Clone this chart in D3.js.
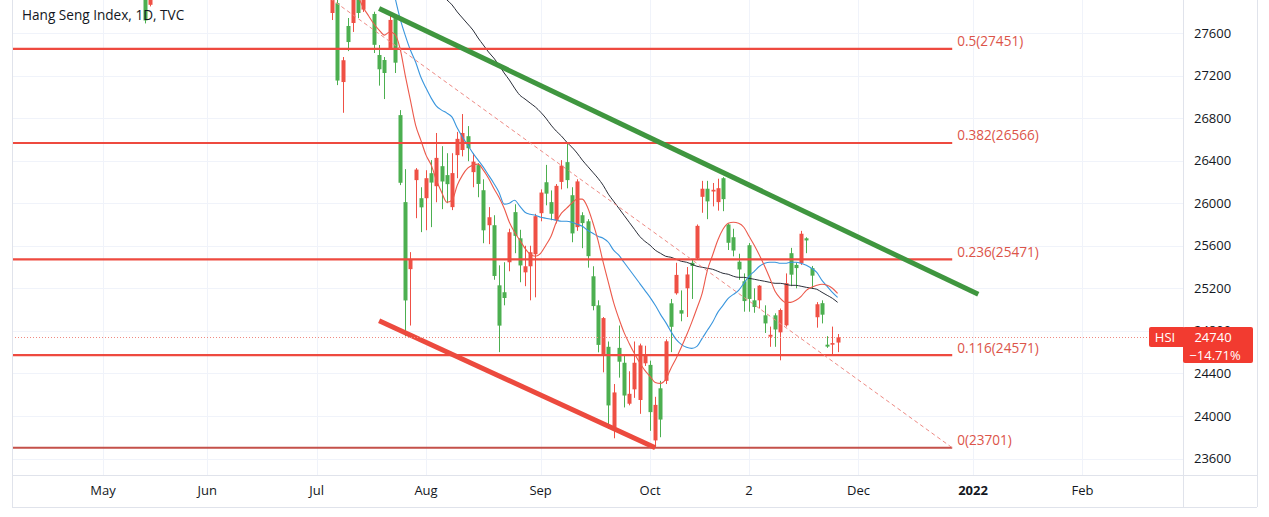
<!DOCTYPE html>
<html><head><meta charset="utf-8">
<script src="https://cdn.jsdelivr.net/npm/d3@7"></script>
<style>
body{margin:0;background:#fff;}
svg{display:block;font-family:"Open Sans",Roboto,sans-serif;}
</style>
</head><body>
<svg id="chart" width="1269" height="517"></svg>
<script>
// ---------------- DATA ----------------
const title = "Hang Seng Index, 1D, TVC";
const symbol = "HSI";
const lastPrice = 24740;
const lastChangeText = "\u221214.71%";

const holidays = ["2021-02-12","2021-02-15","2021-04-02","2021-04-05","2021-04-06","2021-05-19","2021-06-14",
  "2021-07-01","2021-09-22","2021-10-01","2021-10-13","2021-10-14","2021-12-27","2022-02-01","2022-02-02","2022-02-03"];

const candleDates = ["2021-05-13","2021-05-14","2021-07-07","2021-07-08","2021-07-09","2021-07-12","2021-07-13","2021-07-14","2021-07-15",
 "2021-07-19","2021-07-20","2021-07-21","2021-07-22","2021-07-23","2021-07-26","2021-07-27","2021-07-28","2021-07-29","2021-07-30",
 "2021-08-02","2021-08-03","2021-08-04","2021-08-05","2021-08-06","2021-08-09","2021-08-10","2021-08-11","2021-08-12","2021-08-13",
 "2021-08-16","2021-08-17","2021-08-18","2021-08-19","2021-08-20","2021-08-23","2021-08-24","2021-08-25","2021-08-26","2021-08-27",
 "2021-08-30","2021-08-31","2021-09-01","2021-09-02","2021-09-03","2021-09-06","2021-09-07","2021-09-08","2021-09-09","2021-09-10",
 "2021-09-13","2021-09-14","2021-09-15","2021-09-16","2021-09-17","2021-09-20","2021-09-21","2021-09-23","2021-09-24","2021-09-27",
 "2021-09-28","2021-09-29","2021-09-30","2021-10-04","2021-10-05","2021-10-06","2021-10-07","2021-10-08","2021-10-11","2021-10-12",
 "2021-10-15","2021-10-18","2021-10-19","2021-10-20","2021-10-21","2021-10-22","2021-10-25","2021-10-26","2021-10-27","2021-10-28",
 "2021-10-29","2021-11-01","2021-11-02","2021-11-03","2021-11-04","2021-11-05","2021-11-08","2021-11-09","2021-11-10","2021-11-11",
 "2021-11-12","2021-11-15","2021-11-16","2021-11-17","2021-11-18","2021-11-19","2021-11-22","2021-11-23","2021-11-24","2021-11-25"];
const candleOpen = [28100,27865,27788,27880,27139,27666,27694,27990,27820,
 27779,27393,27346,27459,27741,26828,26010,25380,26217,26047,
 26047,26282,26160,26348,26264,25963,26452,26500,26630,26292,
 26358,26122,25793,25793,25228,25163,25445,25916,25670,25350,
 25407,25520,25906,26197,26010,25840,26200,26386,26075,25775,
 25887,25830,25313,25040,24580,24650,23892,24640,24500,24115,
 24250,24150,24495,24480,23770,24260,24330,25059,25153,24994,
 25200,25440,25483,26060,26136,26110,26010,26235,25800,25680,
 25450,25266,25605,25087,25087,24946,24745,24946,24786,24852,
 25530,25420,25436,25670,25390,24928,25060,24670,24670,24690];
const candleHigh = [28150,28060,28050,27950,27374,27741,28020,28050,28080,
 27800,27487,27374,27760,27760,26875,26320,25540,26330,26150,
 26310,26405,26660,26536,26470,26470,26670,26838,26725,26470,
 26376,26225,25963,25887,25416,25445,25760,25990,25750,25600,
 25600,25900,26130,26360,26120,26180,26405,26560,26150,26225,
 25915,25850,25407,25087,24930,24700,24300,24850,24570,24420,
 24700,24680,24660,24520,24180,24330,24720,25100,25440,25180,
 25400,25470,25800,26210,26210,26190,26230,26245,25810,25760,
 25525,25340,25625,25200,25230,25040,24840,24965,25010,25340,
 25580,25440,25740,25680,25410,25070,25087,24750,24840,24770];
const candleLow = [27690,27850,27722,27110,26850,27430,27610,27741,27798,
 27412,27105,26979,27440,27224,26170,24748,24850,25859,25728,
 25746,25775,26009,25944,26000,25935,26235,26440,26395,26150,
 26056,25624,25615,25280,24600,25040,25360,25530,25257,25220,
 25087,25115,25830,25980,25840,25810,26130,26140,25633,25740,
 25577,25394,24993,24598,24410,23880,23790,24360,24080,24100,
 24170,24020,24470,23860,23701,23800,24300,24600,25140,24890,
 24930,25100,25470,25910,25850,25970,25930,25925,25560,25500,
 25280,24980,24980,24970,25010,24780,24650,24650,24523,24840,
 25220,25200,25420,25530,25200,24830,24870,24640,24570,24600];
const candleClose = [27718,28027,27960,27153,27344,27515,27960,27788,27996,
 27489,27259,27224,27723,27321,26192,25086,25473,26316,25961,
 26235,26194,26426,26204,26179,26283,26605,26660,26517,26391,
 26181,25745,25868,25316,24849,25109,25727,25693,25415,25407,
 25539,25878,26100,26090,25901,26163,26353,26217,25716,26205,
 25813,25502,25033,24668,24920,24099,24221,24510,24192,24208,
 24500,24663,24576,24036,24104,23966,24702,24838,25326,24962,
 25330,25410,25787,26136,26017,26126,26141,26038,25628,25555,
 25377,25080,25100,25024,25225,24870,24763,24813,24996,25248,
 25328,25390,25713,25650,25319,25050,24952,24652,24685,24740];

// moving averages, one value per trading day from the start date
const maFastStart = "2021-07-14";
const maFast = [27940,27835,27760,27685,27628,27580,27610,27590,27459,27205,26969,26734,26593,26452,26358,26216,26103,26009,26028,
 26169,26264,26329,26358,26367,26311,26235,26141,26056,25953,25821,25727,25652,25576,25520,25501,25529,25605,25689,25821,
 25906,25953,26000,26038,26038,25962,25821,25652,25445,25256,25068,24918,24786,24682,24588,24503,24428,24372,24315,24306,
 24344,24447,24541,24645,24758,24880,25012,25153,25369,25511,25652,25755,25812,25821,25812,25774,25689,25605,25511,25407,
 25294,25172,25106,25068,25068,25087,25125,25181,25209,25228,25238,25228,25200,25153];
const maMidStart = "2021-07-23";
const maMid = [27945,27740,27580,27440,27327,27186,27082,26988,26913,26875,26847,26809,26706,26621,26546,26471,26405,26339,26264,
 26188,26104,25991,26000,26028,25972,25915,25896,25887,25868,25859,25849,25840,25831,25831,25821,25802,25784,25746,25718,
 25689,25671,25633,25558,25511,25445,25379,25313,25247,25181,25115,25040,24955,24880,24795,24720,24673,24645,24635,24654,
 24729,24805,24880,24974,25040,25106,25143,25181,25247,25313,25360,25407,25435,25445,25445,25435,25435,25445,25445,25435,
 25416,25388,25350,25275,25219,25162,25115];
const maSlowStart = "2021-08-06";
const maSlow = [27911,27864,27798,27741,27685,27628,27553,27487,27421,27365,27299,27224,27158,27082,27016,26979,26941,26904,
 26856,26800,26734,26678,26631,26574,26527,26471,26405,26348,26292,26235,26169,26085,26019,25953,25887,25821,25755,25689,
 25642,25605,25558,25529,25501,25492,25473,25454,25445,25426,25407,25398,25388,25379,25360,25341,25332,25313,25303,25303,
 25294,25285,25275,25266,25256,25247,25247,25238,25228,25228,25219,25209,25200,25191,25162,25134,25106,25068];

const priceTicks = [23600,24000,24400,24800,25200,25600,26000,26400,26800,27200,27600];
const timeTickDates = ["2021-05-03","2021-06-01","2021-07-02","2021-08-02","2021-09-01","2021-10-04","2021-11-02","2021-12-01","2022-01-03","2022-02-04"];
const timeTickLabels = ["May","Jun","Jul","Aug","Sep","Oct","2","Dec","2022","Feb"];

const fibLevels = ["0","0.116","0.236","0.382","0.5"];
const fibPrices = [23701,24571,25471,26566,27451];
const fibEndDate = "2021-12-28";
const fibTrendDates = ["2021-02-18","2021-12-28"];
const fibTrendPrices = [31201,23701];
const greenTrendDates = ["2021-07-20","2022-01-04"];
const greenTrendPrices = [27831,25143];
const redTrendDates = ["2021-07-20","2021-10-05"];
const redTrendPrices = [24894,23701];

// ---------------- CALENDAR (trading days) ----------------
const fmt = d3.utcFormat("%Y-%m-%d");
const hol = new Set(holidays);
const calendar = [];
for (let d = new Date(Date.UTC(2021,1,1)); d <= new Date(Date.UTC(2022,2,31)); d = new Date(d.getTime()+86400000)) {
  const wd = d.getUTCDay(); const s = fmt(d);
  if (wd !== 0 && wd !== 6 && !hol.has(s)) calendar.push(s);
}
const base = calendar.indexOf("2021-05-03");
const idx = s => calendar.indexOf(s) - base;

// ---------------- LAYOUT ----------------
const W = 1269, H = 517;
const plotL = 12, plotR = 1183, plotT = 0, plotB = 475, frameR = 1257, frameB = 507;
const x = d3.scaleLinear().domain([0, 141]).range([103, 837.6]);
const y = d3.scaleLinear().domain([23600, 27600]).range([458.5, 33]);

const UP = "#ef5045", DOWN = "#4caf50";
const svg = d3.select("#chart");
svg.append("rect").attr("width", W).attr("height", H).attr("fill", "#fff");

const defs = svg.append("defs");
defs.append("clipPath").attr("id", "plotclip")
  .append("rect").attr("x", plotL).attr("y", plotT).attr("width", plotR - plotL).attr("height", plotB - plotT);

const ty = y(lastPrice);
const tagTop = Math.round(ty) - 10;
// price labels are hidden where the last-price tag covers them
defs.append("clipPath").attr("id", "axisclip")
  .append("path").attr("d", `M${plotR},0H${W}V${tagTop}H${plotR}Z M${plotR},${tagTop + 36}H${W}V${plotB}H${plotR}Z`);

// grid
const grid = svg.append("g");
grid.selectAll("line.h").data(priceTicks).join("line")
  .attr("x1", plotL).attr("x2", plotR).attr("y1", d => Math.round(y(d)) + 0.5).attr("y2", d => Math.round(y(d)) + 0.5)
  .attr("stroke", "#f0f3fa").attr("stroke-width", 1);
grid.selectAll("line.v").data(timeTickDates).join("line")
  .attr("x1", d => Math.round(x(idx(d))) + 0.5).attr("x2", d => Math.round(x(idx(d))) + 0.5)
  .attr("y1", plotT).attr("y2", plotB).attr("stroke", "#f0f3fa").attr("stroke-width", 1);

const plot = svg.append("g").attr("clip-path", "url(#plotclip)");

// candles
const candles = candleDates.map((d, i) => ({ i: idx(d), o: candleOpen[i], h: candleHigh[i], l: candleLow[i], c: candleClose[i] }));
const cg = plot.append("g");
cg.selectAll("line").data(candles).join("line")
  .attr("x1", d => Math.round(x(d.i)) + 0.5).attr("x2", d => Math.round(x(d.i)) + 0.5)
  .attr("y1", d => y(d.h)).attr("y2", d => y(d.l))
  .attr("stroke", d => d.c >= d.o ? UP : DOWN).attr("stroke-width", 1);
cg.selectAll("rect").data(candles).join("rect")
  .attr("x", d => Math.round(x(d.i)) - 1.5).attr("width", 4)
  .attr("y", d => y(Math.max(d.o, d.c))).attr("height", d => Math.max(1, Math.abs(y(d.o) - y(d.c))))
  .attr("fill", d => d.c >= d.o ? UP : DOWN);

// moving averages
function maSeries(start, vals) { const s = idx(start); return vals.map((v, k) => [s + k, v]); }
const line = d3.line().x(d => x(d[0])).y(d => y(d[1])).curve(d3.curveMonotoneX);
plot.append("path").attr("d", line(maSeries(maSlowStart, maSlow))).attr("fill", "none").attr("stroke", "#2a2e39").attr("stroke-width", 1);
plot.append("path").attr("d", line(maSeries(maMidStart, maMid))).attr("fill", "none").attr("stroke", "#3a96dd").attr("stroke-width", 1.1);
plot.append("path").attr("d", line(maSeries(maFastStart, maFast))).attr("fill", "none").attr("stroke", "#ec5a4c").attr("stroke-width", 1.1);

// fib retracement
const fibX2 = x(idx(fibEndDate));
const fib = plot.append("g");
fib.selectAll("line").data(fibPrices).join("line")
  .attr("x1", plotL).attr("x2", fibX2).attr("y1", d => y(d)).attr("y2", d => y(d))
  .attr("stroke", (d, i) => i === 0 ? "#c4514a" : "#ee4a3f").attr("stroke-width", 2.2);
plot.append("line")
  .attr("x1", x(idx(fibTrendDates[0]))).attr("y1", y(fibTrendPrices[0]))
  .attr("x2", x(idx(fibTrendDates[1]))).attr("y2", y(fibTrendPrices[1]))
  .attr("stroke", "#ee8a84").attr("stroke-width", 1).attr("stroke-dasharray", "4 3");

// trend lines
plot.append("line")
  .attr("x1", x(idx(greenTrendDates[0]))).attr("y1", y(greenTrendPrices[0]))
  .attr("x2", x(idx(greenTrendDates[1]))).attr("y2", y(greenTrendPrices[1]))
  .attr("stroke", "#3f963f").attr("stroke-width", 5).attr("stroke-linecap", "butt");
plot.append("line")
  .attr("x1", x(idx(redTrendDates[0]))).attr("y1", y(redTrendPrices[0]))
  .attr("x2", x(idx(redTrendDates[1]))).attr("y2", y(redTrendPrices[1]))
  .attr("stroke", "#ec4a3e").attr("stroke-width", 5).attr("stroke-linecap", "butt");

// last price line
plot.append("line").attr("x1", plotL).attr("x2", plotR)
  .attr("y1", Math.round(ty) + 0.5).attr("y2", Math.round(ty) + 0.5)
  .attr("stroke", "#f08a80").attr("stroke-width", 1).attr("stroke-dasharray", "1 2");

// fib labels
svg.append("g").selectAll("text").data(fibPrices).join("text")
  .attr("x", fibX2 + 5).attr("y", d => y(d) - 2.5)
  .attr("fill", "#dc5449").attr("font-size", 13.6)
  .text((d, i) => `${fibLevels[i]}(${d})`);

// frame
const fr = svg.append("g").attr("stroke", "#e0e3eb").attr("stroke-width", 1).attr("fill", "none");
fr.append("line").attr("x1", plotL + 0.5).attr("x2", plotL + 0.5).attr("y1", 0).attr("y2", frameB);
fr.append("line").attr("x1", plotR + 0.5).attr("x2", plotR + 0.5).attr("y1", 0).attr("y2", frameB);
fr.append("line").attr("x1", frameR + 0.5).attr("x2", frameR + 0.5).attr("y1", 0).attr("y2", frameB);
fr.append("line").attr("x1", plotL).attr("x2", frameR).attr("y1", plotB + 0.5).attr("y2", plotB + 0.5);
fr.append("line").attr("x1", plotL).attr("x2", frameR).attr("y1", frameB + 0.5).attr("y2", frameB + 0.5);

// price axis
svg.append("g").attr("clip-path", "url(#axisclip)").selectAll("text").data(priceTicks).join("text")
  .attr("x", 1194).attr("y", d => y(d)).attr("dy", "0.35em")
  .attr("fill", "#131722").attr("font-size", 13).text(d => d);

// time axis
svg.append("g").selectAll("text").data(timeTickDates).join("text")
  .attr("x", d => x(idx(d))).attr("y", 490).attr("dy", "0.35em").attr("text-anchor", "middle")
  .attr("fill", "#131722").attr("font-size", 13)
  .attr("font-weight", (d, i) => /^\d{4}$/.test(timeTickLabels[i]) ? 700 : 400)
  .text((d, i) => timeTickLabels[i]);

// last price tag
const tag = svg.append("g");
tag.append("rect").attr("x", 1149).attr("y", tagTop).attr("width", 36).attr("height", 20).attr("rx", 2).attr("fill", "#f23b30");
tag.append("rect").attr("x", 1183).attr("y", tagTop).attr("width", 70).attr("height", 36).attr("rx", 2).attr("fill", "#f23b30");
tag.append("text").attr("x", 1165).attr("y", ty).attr("dy", "0.35em").attr("text-anchor", "middle")
  .attr("fill", "#fff").attr("font-size", 13).text(symbol);
tag.append("text").attr("x", 1213).attr("y", ty).attr("dy", "0.35em").attr("text-anchor", "middle")
  .attr("fill", "#fff").attr("font-size", 13).text(lastPrice);
tag.append("text").attr("x", 1215).attr("y", ty + 18).attr("dy", "0.35em").attr("text-anchor", "middle")
  .attr("fill", "#fff").attr("font-size", 13).text(lastChangeText);

// title
svg.append("text").attr("x", 22).attr("y", 15).attr("dy", "0.35em")
  .attr("fill", "#131722").attr("font-size", 13.6).text(title);
</script>
</body></html>
